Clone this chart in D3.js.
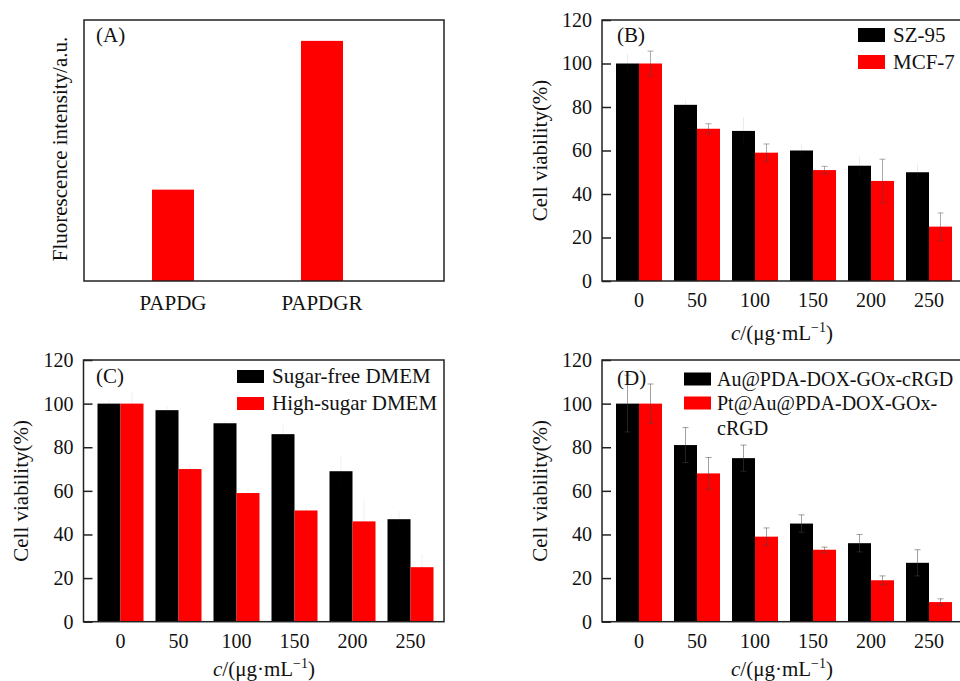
<!DOCTYPE html>
<html>
<head>
<meta charset="utf-8">
<script src="https://cdn.jsdelivr.net/npm/d3@7"></script>
<style>
  html, body { margin: 0; padding: 0; background: #fff; }
  svg { display: block; }
  svg text { font-family: "Liberation Serif", "Times New Roman", serif; }
</style>
</head>
<body>
<script>
// ---- data ----
const samplesA = ["PAPDG", "PAPDGR"];
const fluorescenceA = [0.35, 0.92];

const concentrations = ["0", "50", "100", "150", "200", "250"];
const viabilityTicks = [0, 20, 40, 60, 80, 100, 120];

const seriesB = ["SZ-95", "MCF-7"];
const sz95 = [100, 81, 69, 60, 53, 50];
const sz95Err = [4.4, 2.1, 6.4, 2.9, 4.4, 4.0];
const mcf7 = [100, 70, 59, 51, 46, 25];
const mcf7Err = [5.7, 2.3, 4.0, 1.7, 10.0, 6.3];

const seriesC = ["Sugar-free DMEM", "High-sugar DMEM"];
const sugarFree = [100, 97, 91, 86, 69, 47];
const sugarFreeErr = [2.0, 2.1, 1.0, 4.3, 6.9, 3.8];
const highSugar = [100, 70, 59, 51, 46, 25];
const highSugarErr = [5.4, 2.8, 3.0, 2.0, 10.4, 6.1];

const seriesD = ["Au@PDA-DOX-GOx-cRGD", "Pt@Au@PDA-DOX-GOx-cRGD"];
const auRGD = [100, 81, 75, 45, 36, 27];
const auRGDErr = [13, 8, 6, 4, 4, 6];
const ptAuRGD = [100, 68, 39, 33, 19, 9];
const ptAuRGDErr = [9, 7.3, 4, 1.2, 2, 1.5];

const seriesColors = ["#000000", "#ff0000"];
const frameColor = "#222";
const serif = '"Liberation Serif", "Times New Roman", serif';

const W = 960, H = 681;
const svg = d3.select("body").append("svg").attr("width", W).attr("height", H)
  .attr("font-family", serif);

function frame(g, l, t, r, b) {
  g.append("rect")
    .attr("x", l).attr("y", t).attr("width", r - l).attr("height", b - t)
    .attr("fill", "none").attr("stroke", frameColor).attr("stroke-width", 1.5);
}

function xTitle(g, cx, baseline) {
  const t = g.append("text").attr("x", cx).attr("y", baseline)
    .attr("text-anchor", "middle").attr("font-size", 21).attr("fill", "#111");
  t.append("tspan").attr("font-style", "italic").text("c");
  t.append("tspan").text("/(μg·mL");
  t.append("tspan").attr("dy", -8).attr("font-size", 14).text("−1");
  t.append("tspan").attr("dy", 8).text(")");
}

function yTitle(g, x, cy, label) {
  g.append("text")
    .attr("transform", `translate(${x},${cy}) rotate(-90)`)
    .attr("text-anchor", "middle").attr("font-size", 21).attr("fill", "#111")
    .text(label);
}

// Legend text wraps after a hyphen when it would run past the page edge
function legendText(g, x, y, label, size, lineGap) {
  const t = g.append("text").attr("x", x).attr("y", y).attr("font-size", size).attr("fill", "#111");
  const probe = t.append("tspan").text(label);
  const maxW = W - x;
  if (probe.node().getComputedTextLength() <= maxW) return;
  probe.remove();
  const parts = label.split(/(?<=-)/);
  let line = "", lines = [];
  parts.forEach(p => {
    const test = line + p;
    const tmp = t.append("tspan").text(test);
    const w = tmp.node().getComputedTextLength();
    tmp.remove();
    if (w > maxW && line) { lines.push(line); line = p; } else { line = test; }
  });
  lines.push(line);
  lines.forEach((ln, i) => t.append("tspan").attr("x", x).attr("dy", i ? lineGap : 0).text(ln));
}

function styleAxis(a, size) {
  a.attr("font-family", serif);
  a.select(".domain").remove();
  a.selectAll("text").attr("font-size", size).attr("fill", "#111").attr("font-family", serif);
}

// ---- panel A: fluorescence intensity ----
(function () {
  const g = svg.append("g");
  const L = 84, T = 20, R = 444, B = 281;
  const x = d3.scaleBand().domain(samplesA).range([152, 343]).paddingInner(0.718).paddingOuter(0);
  const y = d3.scaleLinear().domain([0, 1]).range([B, T]);
  g.selectAll("rect.bar").data(samplesA).join("rect").attr("class", "bar")
    .attr("x", d => x(d)).attr("width", x.bandwidth())
    .attr("y", (d, i) => y(fluorescenceA[i]))
    .attr("height", (d, i) => y(0) - y(fluorescenceA[i]))
    .attr("fill", seriesColors[1]);
  const ax = g.append("g").attr("transform", `translate(0,${B})`)
    .call(d3.axisBottom(x).tickSize(0).tickPadding(14));
  styleAxis(ax, 21);
  frame(g, L, T, R, B);
  g.append("text").attr("x", 96).attr("y", 42).attr("font-size", 21).attr("fill", "#111").text("(A)");
  yTitle(g, 67, 149, "Fluorescence intensity/a.u.");
})();

// ---- grouped viability panels ----
function viabilityPanel(cfg) {
  const g = svg.append("g");
  const { L, T, R, B } = cfg;
  const y = d3.scaleLinear().domain([0, 120]).range([B, T]);
  const x0 = d3.scaleBand().domain(concentrations).range([L + 14, L + 350])
    .paddingInner(12 / 58).paddingOuter(0);
  const x1 = d3.scaleBand().domain(cfg.names).range([0, x0.bandwidth()]);

  const rows = concentrations.flatMap((c, i) => cfg.names.map((n, k) => ({
    c, n, k, v: cfg.values[k][i], e: cfg.errors[k][i]
  })));

  g.selectAll("rect.bar").data(rows).join("rect").attr("class", "bar")
    .attr("x", d => x0(d.c) + x1(d.n)).attr("width", x1.bandwidth())
    .attr("y", d => y(d.v)).attr("height", d => y(0) - y(d.v))
    .attr("fill", d => seriesColors[d.k]);

  const eb = g.selectAll("g.err").data(rows).join("g").attr("class", "err")
    .attr("stroke", "#444").attr("stroke-opacity", d => cfg.errOpacity[d.k]).attr("stroke-width", 1);
  const cx = d => x0(d.c) + x1(d.n) + x1.bandwidth() / 2;
  const cap = cfg.cap;
  eb.append("line").attr("x1", cx).attr("x2", cx).attr("y1", d => y(d.v - d.e)).attr("y2", d => y(d.v + d.e));
  eb.append("line").attr("x1", d => cx(d) - cap[d.k]).attr("x2", d => cx(d) + cap[d.k]).attr("y1", d => y(d.v + d.e)).attr("y2", d => y(d.v + d.e));
  eb.append("line").attr("x1", d => cx(d) - cap[d.k]).attr("x2", d => cx(d) + cap[d.k]).attr("y1", d => y(d.v - d.e)).attr("y2", d => y(d.v - d.e));

  const ay = g.append("g").attr("transform", `translate(${L},0)`)
    .call(d3.axisLeft(y).tickValues(viabilityTicks).tickSize(-9).tickPadding(10));
  styleAxis(ay, 20);
  ay.selectAll("line").attr("stroke", frameColor).attr("stroke-width", 1.5);

  const ax = g.append("g").attr("transform", `translate(0,${B})`)
    .call(d3.axisBottom(x0).tickSize(0).tickPadding(12));
  styleAxis(ax, 20);

  frame(g, L, T, R, B);

  g.append("text").attr("x", cfg.tagX).attr("y", cfg.tagY).attr("font-size", 21).attr("fill", "#111").text(cfg.tag);

  const lg = cfg.legend;
  cfg.names.forEach((n, k) => {
    g.append("rect").attr("x", lg.x).attr("y", lg.y + k * lg.gap).attr("width", 27).attr("height", lg.h)
      .attr("fill", seriesColors[k]);
    legendText(g, lg.x + lg.tx, lg.y + k * lg.gap + lg.h, n, lg.size, 25);
  });

  yTitle(g, cfg.yTitleX, (T + B) / 2, "Cell viability(%)");
  xTitle(g, cfg.xTitleX, B + cfg.xTitleGap);
}

viabilityPanel({
  L: 602, T: 20, R: 963, B: 281,
  names: seriesB, values: [sz95, mcf7], errors: [sz95Err, mcf7Err],
  errOpacity: [0.1, 0.45], cap: [0, 3],
  tag: "(B)", tagX: 617, tagY: 42,
  legend: { x: 858, y: 28, gap: 27, h: 14, tx: 35, size: 21 },
  yTitleX: 547, xTitleX: 782, xTitleGap: 59
});

viabilityPanel({
  L: 83.5, T: 360, R: 444, B: 621.7,
  names: seriesC, values: [sugarFree, highSugar], errors: [sugarFreeErr, highSugarErr],
  errOpacity: [0.07, 0.07], cap: [0, 0],
  tag: "(C)", tagX: 96, tagY: 383,
  legend: { x: 237, y: 370, gap: 27, h: 13, tx: 35, size: 21 },
  yTitleX: 28, xTitleX: 264, xTitleGap: 54
});

viabilityPanel({
  L: 602, T: 360, R: 963, B: 621.7,
  names: seriesD, values: [auRGD, ptAuRGD], errors: [auRGDErr, ptAuRGDErr],
  errOpacity: [0.5, 0.5], cap: [3, 3],
  tag: "(D)", tagX: 617, tagY: 385,
  legend: { x: 684, y: 372.5, gap: 24, h: 13, tx: 33, size: 20 },
  yTitleX: 547, xTitleX: 782, xTitleGap: 54
});
</script>
</body>
</html>
